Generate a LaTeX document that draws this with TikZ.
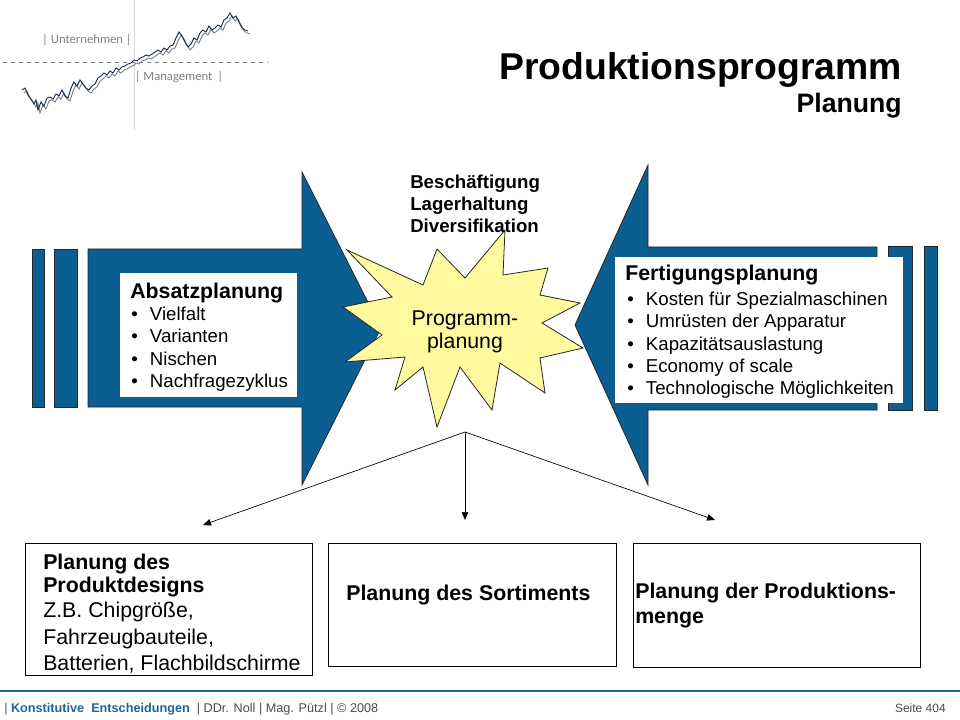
\documentclass[tikz,border=0pt]{standalone}
\usepackage{fontspec}
\setmainfont{Liberation Sans}
\newfontfamily\logofont{Carlito}
\usetikzlibrary{arrows.meta,fit}
\definecolor{arrowblue}{RGB}{10,94,145}
\definecolor{starfill}{RGB}{255,250,160}
\definecolor{footblue}{RGB}{30,100,150}
\definecolor{chartnavy}{RGB}{20,45,80}
\definecolor{logogray}{RGB}{128,128,128}
\newcommand{\bul}{\makebox[14pt][l]{\textbullet}}
\begin{document}
\begin{tikzpicture}[x=0.75pt,y=-0.75pt,
  txt/.style={inner sep=0,anchor=west,text height=1.4ex,text depth=0.4ex,yshift=-3pt},
  head/.style={txt,font=\fontsize{16}{19}\selectfont\bfseries},
  big/.style={txt,font=\fontsize{16}{19}\selectfont},
  item/.style={txt,font=\fontsize{14}{17}\selectfont},
  tag/.style={txt,font=\fontsize{14}{17}\selectfont\bfseries},
  blk/.style={fill=arrowblue,draw=black!85,line width=0.6pt},
  whitebox/.style={fill=white,inner sep=0},
  panel/.style={draw,line width=0.6pt,inner sep=0},
  link/.style={-{Triangle[length=6pt,width=5pt]},line width=0.5pt},
  logo/.style={font=\logofont\fontsize{9.5}{11}\selectfont,text=logogray,inner sep=0}]

  \useasboundingbox (0,0) rectangle (960,720);

  \draw[black!15] (134,0) -- (134,130);
  \draw[logogray,dashed] (3,62) -- (268,62);
  \foreach \c/\dx/\dy in {logogray/2/3, chartnavy/0/0}
    \draw[\c,line width=0.7pt,xshift=\dx*0.75pt,yshift=-\dy*0.75pt]
      (22,90) -- (25,88) -- (28,95) -- (31,99) -- (34,104) -- (36,100) -- (38,110) -- (41,102)
      -- (44,106) -- (47,98) -- (50,97) -- (53,99) -- (56,94) -- (59,96) -- (62,90) -- (65,96)
      -- (68,98) -- (71,88) -- (74,82) -- (77,86) -- (80,80) -- (83,84) -- (86,88) -- (89,90)
      -- (92,86) -- (95,84) -- (98,78) -- (101,76) -- (104,73) -- (107,75) -- (110,71) -- (113,73)
      -- (116,68) -- (119,70) -- (122,67) -- (125,66) -- (128,64) -- (131,63) -- (134,60) -- (137,61)
      -- (140,58) -- (143,57) -- (146,55) -- (149,56) -- (152,54) -- (155,52) -- (158,50) -- (161,52)
      -- (164,48) -- (167,50) -- (170,46) -- (173,45) -- (176,38) -- (179,32) -- (182,36) -- (185,42)
      -- (188,47) -- (191,44) -- (194,38) -- (197,40) -- (200,33) -- (203,30) -- (206,32) -- (209,26)
      -- (212,30) -- (215,28) -- (218,25) -- (221,27) -- (224,20) -- (227,18) -- (230,13) -- (233,18)
      -- (236,16) -- (239,22) -- (242,28) -- (245,30) -- (248,31);
  \node[logo] (unt) at (87,40) {| Unternehmen |};
  \node[logo] (mgmt) at (179,77) {| Management \,|};

  \node[inner sep=0,anchor=east,font=\fontsize{28}{32}\selectfont\bfseries] (title) at (902,70) {Produktionsprogramm};
  \node[inner sep=0,anchor=east,font=\fontsize{20}{24}\selectfont\bfseries] (subtitle) at (902,106) {Planung};

  \foreach \a/\b in {32/44, 54/77}
    \draw[blk] (\a,249) rectangle (\b,407);
  \foreach \a/\b in {888/912, 924/937}
    \draw[blk] (\a,246) rectangle (\b,410);
  \draw[blk] (88,249) -- (302,249) -- (302,172) -- (381,328) -- (302,485) -- (302,407) -- (88,407) -- cycle;
  \draw[blk] (877,247) -- (648,247) -- (648,165) -- (575,325) -- (648,485) -- (648,410) -- (877,410) -- cycle;

  \filldraw[fill=starfill,draw=black!85,line width=0.6pt]
    (347,250) -- (423,285) -- (437,249) -- (465,278) -- (505,230) -- (503,275) -- (548,268) -- (540,295)
    -- (580,303) -- (542,323) -- (583,348) -- (540,358) -- (545,393) -- (500,363) -- (492,410) -- (460,367)
    -- (437,427) -- (423,367) -- (395,390) -- (405,357) -- (345,362) -- (382,335) -- (343,307) -- (392,297) -- cycle;
  \node[align=center,inner sep=0,font=\fontsize{16}{17.25}\selectfont] (prog) at (465,332) {Programm-\\planung};

  \foreach \t [count=\i] in {Beschäftigung, Lagerhaltung, Diversifikation}
    \node[tag] (aim\i) at (410,181+22*\i-22) {\t};

  \node[whitebox,fit={(120,273) (297,397)}] (absatz) {};
  \node[head] (abshead) at (130,291) {Absatzplanung};
  \foreach \t [count=\i] in {Vielfalt, Varianten, Nischen, Nachfragezyklus}
    \node[item] (abs\i) at (131,313+22.3*\i-22.3) {\bul\t};

  \node[whitebox,fit={(615,257) (903,403)}] (fertigung) {};
  \node[head] (ferhead) at (625,273) {Fertigungsplanung};
  \foreach \t [count=\i] in {Kosten für Spezialmaschinen, Umrüsten der Apparatur, Kapazitätsauslastung,
      Economy of scale, Technologische Möglichkeiten}
    \node[item] (fer\i) at (627,298+22.25*\i-22.25) {\bul\t};

  \coordinate (split) at (465,432);
  \coordinate (toDesign) at (203,525);
  \coordinate (toSort) at (465,520);
  \coordinate (toMenge) at (715,520);
  \draw[link] (split) -- (toDesign);
  \draw[link] (split) -- (toSort);
  \draw[link] (split) -- (toMenge);

  \node[panel,fit={(25,543) (312,675)}] (design) {};
  \node[head] (des1) at (43,562) {Planung des};
  \node[head] (des2) at (43,585) {Produktdesigns};
  \node[big] (des3) at (43,610) {Z.B. Chipgröße,};
  \node[big] (des4) at (43,637) {Fahrzeugbauteile,};
  \node[big] (des5) at (43,663) {Batterien, Flachbildschirme};

  \node[panel,fit={(328,543) (616,666)}] (sortiment) {};
  \node[head] (sort1) at (346,593) {Planung des Sortiments};

  \node[panel,fit={(633,543) (920,667)}] (menge) {};
  \node[head] (men1) at (635,591) {Planung der Produktions-};
  \node[head] (men2) at (635,616) {menge};

  \draw[footblue,line width=1pt] (0,691) -- (960,691);
  \node[txt,yshift=1pt,font=\fontsize{9.5}{11}\selectfont,text=black!70] (foot) at (4,706)
    {{\color{footblue}| \textbf{Konstitutive\ \ Entscheidungen}}\ \ | DDr. Noll | Mag. Pützl | © 2008};
  \node[txt,yshift=1pt,anchor=east,font=\fontsize{9}{11}\selectfont,text=black!70] (page) at (946,706) {Seite 404};
\end{tikzpicture}
\end{document}
